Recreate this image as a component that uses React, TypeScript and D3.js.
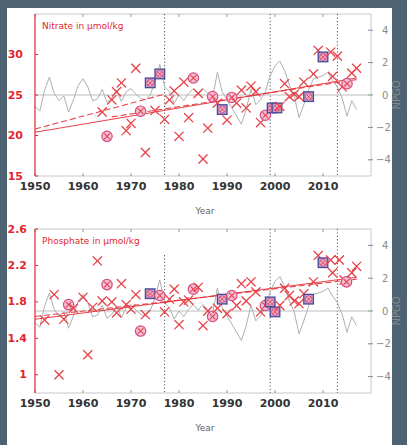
import React from "react";
import * as d3 from "d3";

// ---------- DATA ----------
const npgoYears = d3.range(1950, 2018);
const npgoValues = [
  -0.7, -1.0, 0.3, 1.1, 0.1, -0.35, -0.05, -1.05, -0.3, 0.6,
  1.0, 0.5, -0.35, -0.25, 0.35, -0.45, -0.2, 0.3, -0.4, 0.2,
  0.4, 0.05, -0.2, -0.3, 0.0, 0.8, 1.9, 0.5, 0.2, -0.5,
  0.0, -0.35, 0.1, 0.4, 0.05, 0.4, 0.1, -0.15, 1.4, 0.2,
  -0.3, -0.8, -1.3, -1.8, -0.9, 0.35, -0.6, -0.3, 0.2, 1.2,
  1.8, 2.1, 1.5, 0.6, -0.05, -1.4, -0.6, 0.3, 1.0, 1.1,
  1.2, 1.4, 0.9, 0.5, -0.2, -1.3, -0.35, -0.9,
];

const nitrateYears = [
  1964, 1965, 1966, 1967, 1968, 1969, 1970, 1971, 1972, 1973, 1974, 1975, 1976, 1977,
  1978, 1979, 1980, 1981, 1982, 1983, 1984, 1985, 1986, 1987, 1988, 1989, 1990, 1991,
  1992, 1993, 1994, 1995, 1996, 1997, 1998, 1999.4, 2000.4, 2001, 2002, 2003, 2004, 2005,
  2006, 2007, 2008, 2009, 2010, 2011.6, 2012, 2013, 2014, 2015, 2016, 2017,
];
const nitrateValues = [
  22.9, 19.9, 24.4, 25.4, 26.5, 20.6, 21.5, 28.3, 23.0, 17.9, 26.5, 23.1, 27.6, 22.0,
  24.4, 25.5, 19.9, 26.6, 22.2, 27.1, 25.2, 17.1, 20.9, 24.8, 24.0, 23.2, 21.9, 24.7,
  24.0, 25.6, 23.4, 26.1, 25.4, 21.6, 22.5, 23.4, 23.4, 23.6, 26.4, 24.8, 25.1, 24.8,
  26.6, 24.8, 27.6, 30.5, 29.7, 30.3, 27.3, 29.8, 26.0, 26.4, 27.7, 28.3,
];
const nitrateKinds = [
  "x", "c", "x", "x", "x", "x", "x", "x", "c", "x", "s", "x", "s", "x",
  "x", "x", "x", "x", "x", "c", "x", "x", "x", "c", "x", "s", "x", "c",
  "x", "x", "x", "x", "x", "x", "c", "s", "s", "x", "x", "x", "x", "x",
  "x", "s", "x", "x", "s", "x", "x", "x", "x", "c", "x", "x",
];
const nitrateTrendYears = [[1950, 2017], [1950, 1977], [1966, 2017]];
const nitrateTrendValues = [[20.4, 27.1], [20.8, 25.1], [22.3, 26.9]];
const nitrateTrendDashed = [false, true, true];

const phosphateYears = [
  1952, 1954, 1955, 1956, 1957, 1958, 1960, 1961, 1962, 1963, 1964, 1965, 1966, 1967,
  1968, 1969, 1970, 1971, 1972, 1973, 1974, 1976, 1977, 1978, 1979, 1980, 1981, 1982,
  1983, 1984, 1985, 1986, 1987, 1988, 1989, 1990, 1991, 1992, 1993, 1994, 1995, 1996,
  1997, 1998, 1999, 2000, 2001, 2002, 2003, 2004, 2005, 2006, 2007, 2008, 2009, 2010,
  2011.6, 2012, 2013.4, 2014.4, 2014.9, 2016, 2017,
];
const phosphateValues = [
  1.60, 1.88, 1.00, 1.61, 1.77, 1.73, 1.85, 1.22, 1.74, 2.25, 1.81, 1.99, 1.80, 1.68,
  2.00, 1.77, 1.72, 1.88, 1.48, 1.66, 1.89, 1.87, 1.69, 1.83, 1.94, 1.55, 1.80, 1.82,
  1.94, 1.96, 1.54, 1.70, 1.64, 1.73, 1.83, 1.67, 1.87, 1.76, 2.00, 1.81, 2.02, 1.91,
  1.69, 1.76, 1.80, 1.69, 1.76, 1.95, 1.87, 1.81, 1.78, 1.89, 1.83, 2.02, 2.31, 2.23,
  2.26, 2.12, 2.26, 2.04, 2.02, 2.12, 2.19,
];
const phosphateKinds = [
  "x", "x", "x", "x", "c", "x", "x", "x", "x", "x", "x", "c", "x", "x",
  "x", "x", "x", "x", "c", "x", "s", "c", "x", "x", "x", "x", "x", "x",
  "c", "x", "x", "x", "c", "x", "s", "x", "c", "x", "x", "x", "x", "x",
  "x", "c", "s", "s", "x", "x", "x", "x", "x", "x", "s", "x", "x", "s",
  "x", "x", "x", "x", "c", "x", "x",
];
const phosphateTrendYears = [[1950, 2017], [1950, 1977], [1977, 2017]];
const phosphateTrendValues = [[1.61, 2.07], [1.64, 1.80], [1.80, 2.05]];
const phosphateTrendDashed = [false, true, true];

const yearTicks = [1950, 1960, 1970, 1980, 1990, 2000, 2010];
const nitrateTicks = [15, 20, 25, 30];
const phosphateTicks = [1, 1.4, 1.8, 2.2, 2.6];
const npgoTicks = [-4, -2, 0, 2, 4];
const regimeYears = [1977, 1999, 2013];

// ---------- STYLE ----------
const RED = "#e3262e";
const MARK = "#e8434a";
const GRID = "#c8c8c8";
const FONT = "'DejaVu Sans', 'Liberation Sans', sans-serif";

type PanelProps = {
  top: number;
  bottom: number;
  title: string;
  years: number[];
  values: number[];
  kinds: string[];
  domain: [number, number];
  ticks: number[];
  tickFmt: (v: number) => string;
  trendYears: number[][];
  trendValues: number[][];
  trendDashed: boolean[];
  labelRight: number;
  firstRegimeTop?: number;
};

function Marker({ kind, x, y }: { kind: string; x: number; y: number }) {
  const cross = (h: number, w: number) => (
    <g stroke={MARK} strokeWidth={w} strokeLinecap="round">
      <line x1={x - h} y1={y - h} x2={x + h} y2={y + h} />
      <line x1={x - h} y1={y + h} x2={x + h} y2={y - h} />
    </g>
  );
  if (kind === "c") {
    return (
      <g>
        <circle cx={x} cy={y} r={5.2} fill="#f2c0d6" stroke="#d84a80" strokeWidth={1.2} />
        {cross(2.6, 1.1)}
      </g>
    );
  }
  if (kind === "s") {
    return (
      <g>
        <rect x={x - 4.8} y={y - 4.8} width={9.6} height={9.6} fill="#c79ac8" stroke="#474a98" strokeWidth={1.3} />
        <circle cx={x} cy={y} r={3.3} fill="#ecb6d2" stroke="#d84a80" strokeWidth={0.8} />
        {cross(2.2, 1)}
      </g>
    );
  }
  return cross(4.2, 1.3);
}

function Panel(p: PanelProps) {
  const left = 35;
  const right = 371;
  const x = d3.scaleLinear().domain([1950, 2020]).range([left, right]);
  const y = d3.scaleLinear().domain(p.domain).range([p.bottom, p.top]);
  const yr = d3.scaleLinear().domain([-5, 5]).range([p.bottom, p.top]);
  const npgoLine = d3
    .line<number>()
    .x((_, i) => x(npgoYears[i]))
    .y((v) => yr(v))(npgoValues) as string;
  const midR = (p.top + p.bottom) / 2;
  return (
    <g fontFamily={FONT}>
      <line x1={left} x2={right} y1={p.top} y2={p.top} stroke={GRID} strokeWidth={1} />
      <line x1={left} x2={right} y1={p.bottom} y2={p.bottom} stroke={GRID} strokeWidth={1} />
      <line x1={right} x2={right} y1={p.top} y2={p.bottom} stroke={GRID} strokeWidth={1} />
      {yearTicks.map((t) => (
        <g key={"yt" + t}>
          <line x1={x(t)} x2={x(t)} y1={p.top} y2={p.top + 3} stroke="#999" />
          <line x1={x(t)} x2={x(t)} y1={p.bottom} y2={p.bottom - 3} stroke="#999" />
          <text x={x(t)} y={p.bottom + 14} textAnchor="middle" fontSize={11} fontWeight="bold" fill="#333">
            {t}
          </text>
        </g>
      ))}
      <text x={(left + right) / 2 + 2} y={p.bottom + 38} textAnchor="middle" fontSize={9} fill="#666">
        Year
      </text>
      {npgoTicks.map((t) => (
        <g key={"nt" + t}>
          <line x1={right - 3} x2={right + 2} y1={yr(t)} y2={yr(t)} stroke="#888" />
          <text x={t < 0 ? right + 5 : right + 11} y={yr(t) + 3.5} fontSize={10} fill="#8a8a8a">
            {t < 0 ? "\u2212" + Math.abs(t) : t}
          </text>
        </g>
      ))}
      <text
        transform={`translate(${right + 29},${midR}) rotate(-90)`}
        textAnchor="middle"
        fontSize={10}
        fill="#8a8a8a"
      >
        NPGO
      </text>
      {regimeYears.map((r, i) => (
        <line
          key={"rg" + r}
          x1={x(r)}
          x2={x(r)}
          y1={i === 0 && p.firstRegimeTop ? p.firstRegimeTop : p.top}
          y2={p.bottom}
          stroke="#555"
          strokeWidth={1}
          strokeDasharray="1.2,2.2"
        />
      ))}
      <line x1={left} x2={right} y1={yr(0)} y2={yr(0)} stroke="#bdbdbd" strokeWidth={1} />
      <path d={npgoLine} fill="none" stroke="#aab2b2" strokeWidth={1} />
      <line x1={left} x2={left} y1={p.top} y2={p.bottom} stroke={RED} strokeWidth={1.2} />
      {p.ticks.map((t) => (
        <g key={"lt" + t}>
          <line x1={left} x2={left + 3} y1={y(t)} y2={y(t)} stroke={RED} />
          <text x={p.labelRight} y={y(t) + 3.5} textAnchor="end" fontSize={11} fontWeight="bold" fill={RED}>
            {p.tickFmt(t)}
          </text>
        </g>
      ))}
      {p.trendYears.map((ty, i) => (
        <line
          key={"tr" + i}
          x1={x(ty[0])}
          x2={x(ty[1])}
          y1={y(p.trendValues[i][0])}
          y2={y(p.trendValues[i][1])}
          stroke={RED}
          strokeWidth={1.1}
          strokeDasharray={p.trendDashed[i] ? "6,3" : undefined}
          opacity={0.85}
        />
      ))}
      {p.years.map((yv, i) => (
        <Marker key={"m" + i} kind={p.kinds[i]} x={x(yv)} y={y(p.values[i])} />
      ))}
      <text x={left + 7} y={p.top + 15} fontSize={9} fill={RED}>
        {p.title}
      </text>
    </g>
  );
}

export default function App() {
  return (
    <svg
      width={407}
      height={445}
      style={{ position: "absolute", left: 0, top: 0, display: "block" }}
    >
      <rect x={0} y={0} width={407} height={445} fill="#4d6374" />
      <rect x={7} y={8} width={385} height={437} fill="#ffffff" />
      <Panel
        top={14}
        bottom={176}
        title="Nitrate in µmol/kg"
        years={nitrateYears}
        values={nitrateValues}
        kinds={nitrateKinds}
        domain={[15, 35]}
        ticks={nitrateTicks}
        tickFmt={(v) => String(v)}
        trendYears={nitrateTrendYears}
        trendValues={nitrateTrendValues}
        trendDashed={nitrateTrendDashed}
        labelRight={23}
      />
      <Panel
        top={229}
        bottom={393}
        title="Phosphate in µmol/kg"
        years={phosphateYears}
        values={phosphateValues}
        kinds={phosphateKinds}
        domain={[0.8, 2.6]}
        ticks={phosphateTicks}
        tickFmt={(v) => (v === 1 ? "1" : v.toFixed(1))}
        trendYears={phosphateTrendYears}
        trendValues={phosphateTrendValues}
        trendDashed={phosphateTrendDashed}
        labelRight={27}
        firstRegimeTop={255}
      />
    </svg>
  );
}
